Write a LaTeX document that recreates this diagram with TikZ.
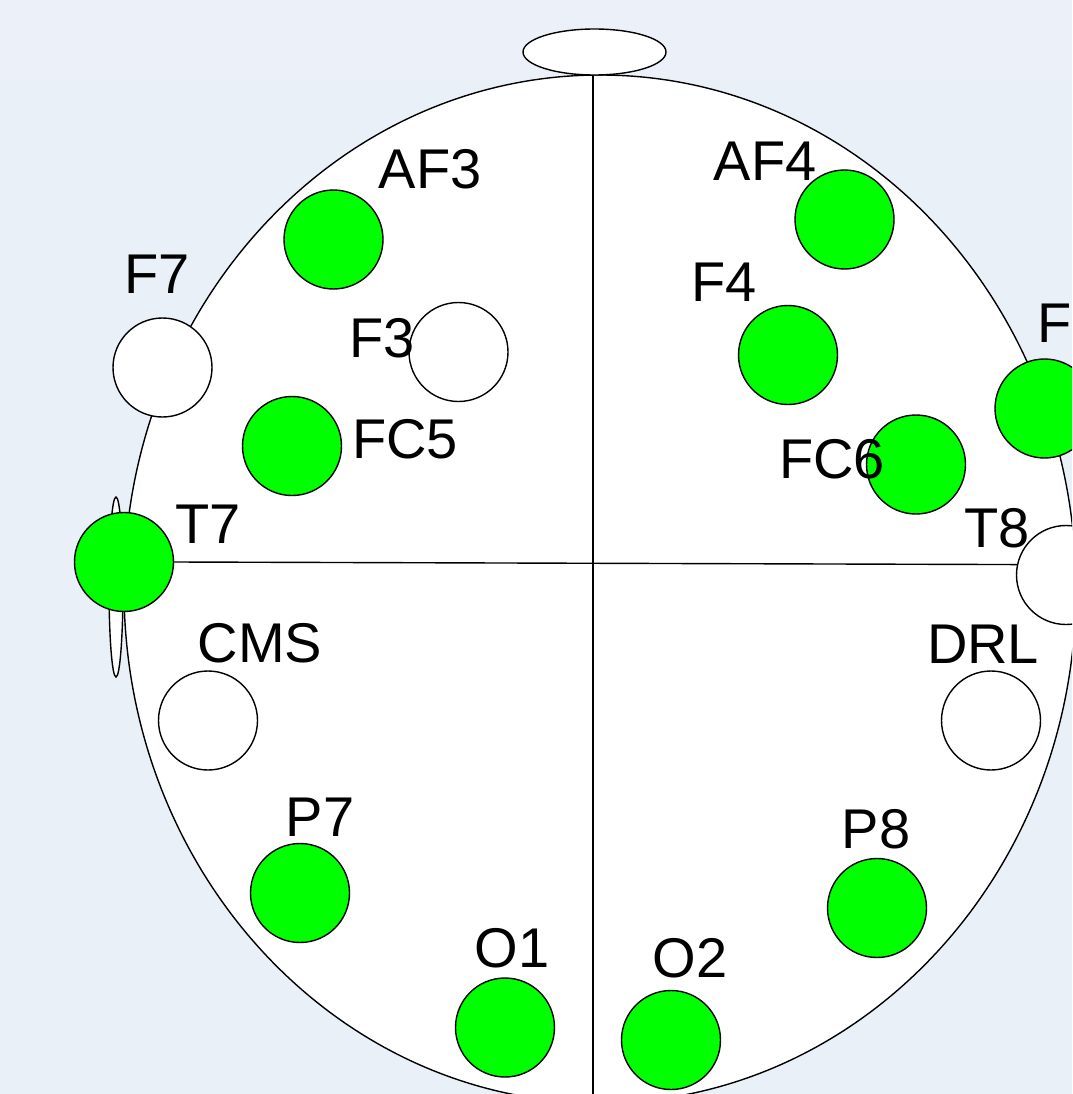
\documentclass[tikz,border=0pt]{standalone}
\usepackage{fontspec}
\setmainfont{Liberation Sans}
\usetikzlibrary{shapes.geometric}
\definecolor{bgtop}{RGB}{236,241,249}
\definecolor{bgmain}{RGB}{234,240,248}
\definecolor{elgreen}{RGB}{0,255,0}
\tikzset{
  outline/.style={draw=black, line width=1.4pt},
  electrode/.style={circle, outline, minimum size=99pt, inner sep=0pt},
  gel/.style={electrode, fill=elgreen},
  ref/.style={electrode, fill=white},
  lbl/.style={anchor=base, inner sep=0pt, font=\fontsize{56}{60}\selectfont}
}
\begin{document}
\begin{tikzpicture}[x=1pt, y=-1pt]
\useasboundingbox (0,0) rectangle (1072,1094);
\clip (0,0) rectangle (1072,1094);
\fill[bgmain] (0,0) rectangle (1072,1094);
\fill[bgtop] (0,0) rectangle (1072,80);
% ear
\draw[outline, fill=white] (116,587) ellipse [x radius=7, y radius=90];
% head
\draw[outline, fill=white] (600,589) ellipse [x radius=476, y radius=514];
% nose
\node[ellipse, outline, fill=white, minimum width=143pt, minimum height=46pt, inner sep=0pt] (nose) at (594.5,52) {};
\coordinate (bottom) at (593,1110);
% electrodes
\node[gel] (AF3) at (333.5,239.5) {};
\node[gel] (AF4) at (844.5,219.5) {};
\node[ref] (F7) at (162.5,367.5) {};
\node[ref] (F3) at (458.5,352) {};
\node[gel] (F4) at (788,355) {};
\node[gel] (F8) at (1044.5,408.5) {};
\node[gel] (FC5) at (292,446) {};
\node[gel] (FC6) at (916,464.5) {};
\node[gel] (T7) at (124,562) {};
\node[ref] (T8) at (1066,575) {};
\node[ref] (CMS) at (208,720.5) {};
\node[ref] (DRL) at (991,720.5) {};
\node[gel] (P7) at (300,893) {};
\node[gel] (P8) at (877,908) {};
\node[gel] (O1) at (505,1027.5) {};
\node[gel] (O2) at (671,1040) {};
% midlines
\draw[outline] (nose.south -| bottom) -- (bottom);
\draw[outline] (T7.east) -- (T8.168);
% labels
\node[lbl] (lAF3) at (430,189) {AF3};
\node[lbl] (lAF4) at (765,181) {AF4};
\node[lbl] (lF7) at (157,293) {F7};
\node[lbl] (lF3) at (382,357) {F3};
\node[lbl] (lF4) at (724,301) {F4};
\node[lbl, anchor=base west] (lF8) at (1037,342) {F8};
\node[lbl] (lFC5) at (405,458) {FC5};
\node[lbl] (lFC6) at (832,478) {FC6};
\node[lbl] (lT7) at (208,543) {T7};
\node[lbl] (lT8) at (997,547) {T8};
\node[lbl] (lCMS) at (260,662) {CMS};
\node[lbl] (lDRL) at (983,663) {DRL};
\node[lbl] (lP7) at (320,836) {P7};
\node[lbl] (lP8) at (876,848) {P8};
\node[lbl] (lO1) at (512,967) {O1};
\node[lbl] (lO2) at (690,977) {O2};
\end{tikzpicture}
\end{document}
